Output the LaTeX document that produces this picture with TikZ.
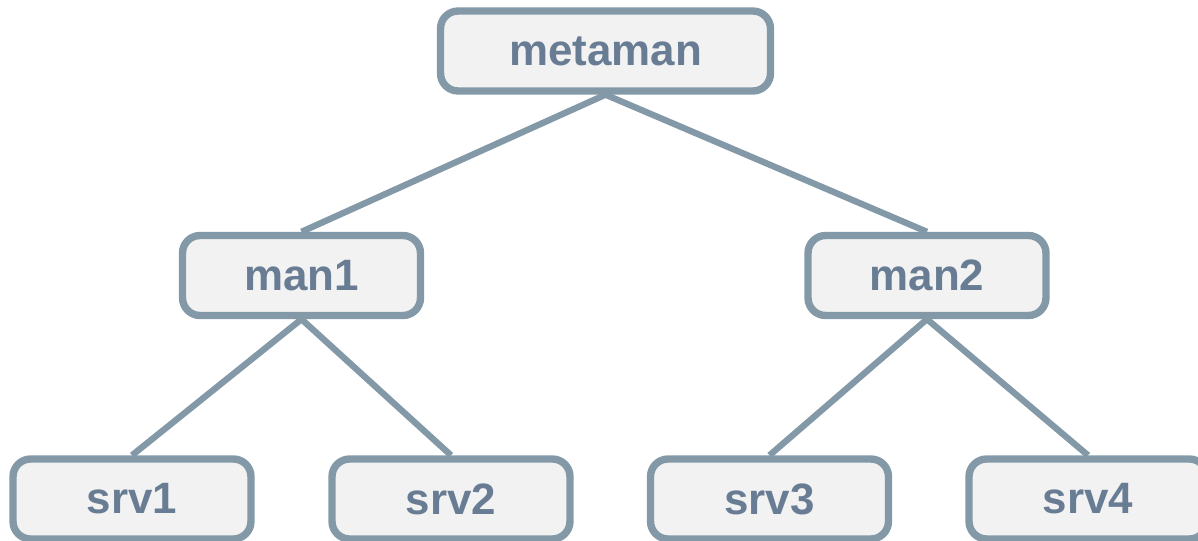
\documentclass[tikz,border=0pt]{standalone}
\usepackage{fontspec}
\setmainfont{Liberation Sans}
\usetikzlibrary{positioning}
\definecolor{boxline}{HTML}{8399A8}
\definecolor{boxfill}{HTML}{F2F2F2}
\definecolor{boxtext}{HTML}{687D93}
\tikzset{
  hostbox/.style={
    rectangle, rounded corners=10pt, draw=boxline, line width=4.2pt,
    fill=boxfill, text=boxtext,
    minimum width=4.76cm, minimum height=1.6cm,
    align=center, font=\fontsize{25}{29}\selectfont\bfseries
  },
  link/.style={draw=boxline, line width=3.6pt}
}
\begin{document}
\begin{tikzpicture}[x=0.02cm, y=-0.02cm]
  \useasboundingbox (0,0) rectangle (1198,541);
  \clip (0,0) rectangle (1198,541);
  \node[hostbox, minimum width=6.6cm] (meta) at (605.5,51) {metaman};
  \node[hostbox] (man1) at (301.5,275.5) {man1};
  \node[hostbox] (man2) at (927,275.5) {man2};
  \node[hostbox] (srv1) at (132,499) {srv1};
  \node[hostbox] (srv2) at (451,499) {srv2};
  \node[hostbox] (srv3) at (769.5,499) {srv3};
  \node[hostbox] (srv4) at (1088,499) {srv4};

  \draw[link] (meta.south) -- (man1.north);
  \draw[link] (meta.south) -- (man2.north);
  \draw[link] (man1.south) -- (srv1.north);
  \draw[link] (man1.south) -- (srv2.north);
  \draw[link] (man2.south) -- (srv3.north);
  \draw[link] (man2.south) -- (srv4.north);
\end{tikzpicture}
\end{document}
